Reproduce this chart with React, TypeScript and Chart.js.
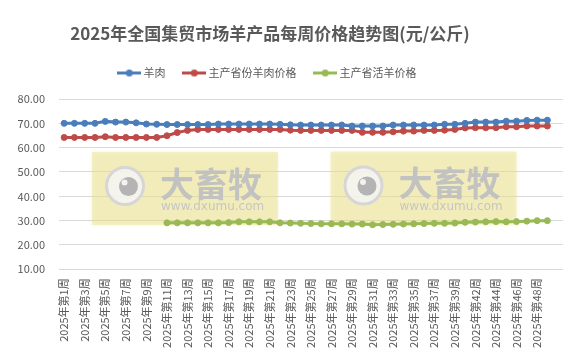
import React, { useEffect, useRef } from "react";
import { Chart, registerables } from "chart.js";

Chart.register(...registerables);

// Week numbers present in the source (week 40 missing)
const WEEKS = [
  1, 2, 3, 4, 5, 6, 7, 8, 9, 10, 11, 12, 13, 14, 15, 16, 17, 18, 19, 20,
  21, 22, 23, 24, 25, 26, 27, 28, 29, 30, 31, 32, 33, 34, 35, 36, 37, 38, 39,
  41, 42, 43, 44, 45, 46, 47, 48, 49,
];
// category labels (the sheet has one trailing empty category)
const CATEGORIES = [...WEEKS.map((w) => `2025年第${w}周`), ""];

const TITLE = "2025年全国集贸市场羊产品每周价格趋势图(元/公斤)";
const SERIES_NAMES = ["羊肉", "主产省份羊肉价格", "主产省活羊价格"];

const MUTTON = [
  70.0, 70.0, 70.0, 70.0, 70.8, 70.5, 70.5, 70.2, 69.7, 69.6,
  69.5, 69.5, 69.5, 69.5, 69.5, 69.7, 69.7, 69.7, 69.7, 69.7,
  69.7, 69.6, 69.4, 69.3, 69.3, 69.3, 69.3, 69.3, 68.9, 68.9,
  68.9, 68.9, 69.3, 69.3, 69.3, 69.3, 69.3, 69.6, 69.6, 70.0,
  70.5, 70.5, 70.5, 70.9, 70.9, 71.2, 71.3, 71.3,
];

const PROVINCE_MUTTON = [
  64.2, 64.2, 64.2, 64.2, 64.5, 64.2, 64.2, 64.2, 64.2, 64.2,
  64.9, 66.2, 67.1, 67.5, 67.5, 67.5, 67.5, 67.5, 67.5, 67.5,
  67.5, 67.5, 67.2, 67.1, 67.1, 67.1, 67.1, 67.1, 67.1, 66.3,
  66.3, 66.3, 66.5, 66.8, 66.8, 67.1, 67.1, 67.2, 67.5, 68.1,
  68.2, 68.2, 68.2, 68.6, 68.6, 68.9, 68.9, 68.9,
];

const LIVE_SHEEP = [
  null, null, null, null, null, null, null, null, null, null,
  29.1, 29.1, 29.1, 29.1, 29.1, 29.1, 29.2, 29.5, 29.5, 29.5,
  29.5, 29.1, 29.0, 28.9, 28.8, 28.7, 28.7, 28.7, 28.6, 28.6,
  28.3, 28.4, 28.5, 28.6, 28.7, 28.8, 28.9, 28.9, 29.0, 29.3,
  29.4, 29.5, 29.6, 29.5, 29.6, 29.8, 30.0, 30.0,
];

const Y_MIN = 10;
const Y_MAX = 80;
const Y_STEP = 10;

const COLORS = ["#4A7EBB", "#BE4B48", "#98B954"];
const TEXT_COLOR = "#595959";
const GRID_COLOR = "#d9d9d9";
const FONT = "'Noto Sans CJK SC', 'Noto Sans', sans-serif";

function makeMarker(color: string) {
  const c = document.createElement("canvas");
  c.width = 24;
  c.height = 9;
  const ctx = c.getContext("2d")!;
  ctx.strokeStyle = color;
  ctx.lineWidth = 3;
  ctx.beginPath();
  ctx.moveTo(0, 4.5);
  ctx.lineTo(24, 4.5);
  ctx.stroke();
  ctx.fillStyle = color;
  ctx.beginPath();
  ctx.arc(12, 4.5, 3.5, 0, Math.PI * 2);
  ctx.fill();
  return c;
}

function drawWatermark(ctx: CanvasRenderingContext2D, ox: number, oy: number) {
  ctx.save();
  ctx.shadowColor = "rgba(200,190,120,0.35)";
  ctx.shadowBlur = 4;
  ctx.fillStyle = "rgba(238,226,130,0.45)";
  ctx.fillRect(ox + 92, oy + 152, 186, 73);
  ctx.restore();

  ctx.save();
  // logo ring
  ctx.beginPath();
  ctx.arc(ox + 125, oy + 186, 18.5, 0, Math.PI * 2);
  ctx.fillStyle = "rgba(245,245,245,0.85)";
  ctx.fill();
  ctx.lineWidth = 3;
  ctx.strokeStyle = "#d6d6d6";
  ctx.stroke();
  ctx.beginPath();
  ctx.arc(ox + 128.5, oy + 186.5, 9.5, 0, Math.PI * 2);
  ctx.fillStyle = "#b4b4b4";
  ctx.fill();
  ctx.beginPath();
  ctx.arc(ox + 124.5, oy + 182.5, 3, 0, Math.PI * 2);
  ctx.fillStyle = "#f2f2f2";
  ctx.fill();
  // brand text
  ctx.fillStyle = "#c2c2c0";
  ctx.font = `bold 34px ${FONT}`;
  ctx.textBaseline = "middle";
  ctx.textAlign = "left";
  ctx.fillText("大畜牧", ox + 160, oy + 184);
  ctx.font = "12px 'DejaVu Sans', sans-serif";
  ctx.fillStyle = "#c6c6c4";
  ctx.fillText("www.dxumu.com", ox + 161, oy + 207);
  ctx.restore();
}

const watermarkPlugin = {
  id: "watermark",
  beforeDatasetsDraw(chart: any) {
    const ctx = chart.ctx;
    drawWatermark(ctx, 0, 0);
    drawWatermark(ctx, 238.5, -0.5);
  },
};

const TITLE_CX = 270;
const TITLE_CY = 33.5;
const LEGEND_CX = 268.5;
const LEGEND_TEXT_CY = 73;
const LEGEND_PAD = 20;
const LEGEND_FONT = 11;

const headerPlugin = {
  id: "headerPos",
  afterLayout(chart: any) {
    const t = chart.titleBlock;
    if (t) {
      const dx = TITLE_CX - (t.left + t.right) / 2;
      t.left += dx;
      t.right += dx;
      const dy = TITLE_CY - (t.top + t.height / 2);
      t.top += dy;
      t.bottom += dy;
    }
    const l = chart.legend;
    if (l) {
      const dx = LEGEND_CX - (l.left + l.right) / 2;
      l.left += dx;
      l.right += dx;
      const dy = LEGEND_TEXT_CY - (l.top + LEGEND_PAD + LEGEND_FONT / 2);
      l.top += dy;
      l.bottom += dy;
    }
  },
};

export default function App() {
  const ref = useRef<HTMLCanvasElement | null>(null);

  useEffect(() => {
    if (!ref.current) return;
    const markers = COLORS.map(makeMarker);
    const seriesData = [MUTTON, PROVINCE_MUTTON, LIVE_SHEEP];
    const chart = new Chart(ref.current, {
      type: "line",
      data: {
        labels: CATEGORIES,
        datasets: seriesData.map((d, i) => ({
          label: SERIES_NAMES[i],
          data: d,
          borderColor: COLORS[i],
          backgroundColor: COLORS[i],
          pointBackgroundColor: COLORS[i],
          pointBorderColor: COLORS[i],
          borderWidth: 3,
          pointRadius: 3,
          pointBorderWidth: 1,
          tension: 0,
          spanGaps: false,
        })),
      },
      options: {
        animation: false,
        responsive: false,
        layout: { padding: { left: 0, right: 15, top: 37.6, bottom: 0 } },
        plugins: {
          title: {
            display: true,
            text: TITLE,
            color: TEXT_COLOR,
            font: { family: FONT, size: 17, weight: "bold" },
            padding: { top: 0, bottom: 0 },
          },
          legend: {
            display: true,
            position: "top",
            labels: {
              usePointStyle: true,
              pointStyleWidth: 17.5,
              padding: LEGEND_PAD,
              color: TEXT_COLOR,
              font: { family: FONT, size: LEGEND_FONT },
              generateLabels: (c: any) =>
                (Chart.defaults.plugins.legend.labels.generateLabels as any)(c).map(
                  (item: any, i: number) => ({ ...item, pointStyle: markers[item.datasetIndex ?? i] })
                ),
            },
          },
          tooltip: { enabled: false },
        },
        scales: {
          x: {
            type: "category",
            offset: true,
            grid: { display: false, drawTicks: false },
            border: { display: false },
            ticks: {
              autoSkip: false,
              maxRotation: 90,
              minRotation: 90,
              padding: 9,
              color: TEXT_COLOR,
              font: { family: FONT, size: 11 },
              callback: (_v: any, i: number) => (i % 2 === 0 ? CATEGORIES[i] : null),
            },
            afterFit: (s: any) => {
              s.height = 92.7;
            },
          },
          y: {
            min: Y_MIN,
            max: Y_MAX,
            grid: { color: GRID_COLOR, lineWidth: 1, drawTicks: false },
            border: { display: false },
            ticks: {
              stepSize: Y_STEP,
              padding: 14,
              color: TEXT_COLOR,
              font: { family: FONT, size: 11 },
              callback: (v: any) => Number(v).toFixed(2),
            },
            afterFit: (s: any) => {
              s.width = 59;
            },
          },
        },
      },
      plugins: [watermarkPlugin, headerPlugin],
    } as any);
    return () => chart.destroy();
  }, []);

  return (
    <div style={{ position: "fixed", left: 0, top: 0, width: 580, height: 362, background: "#fff" }}>
      <canvas ref={ref} width={580} height={362} style={{ width: 580, height: 362, display: "block" }} />
    </div>
  );
}
